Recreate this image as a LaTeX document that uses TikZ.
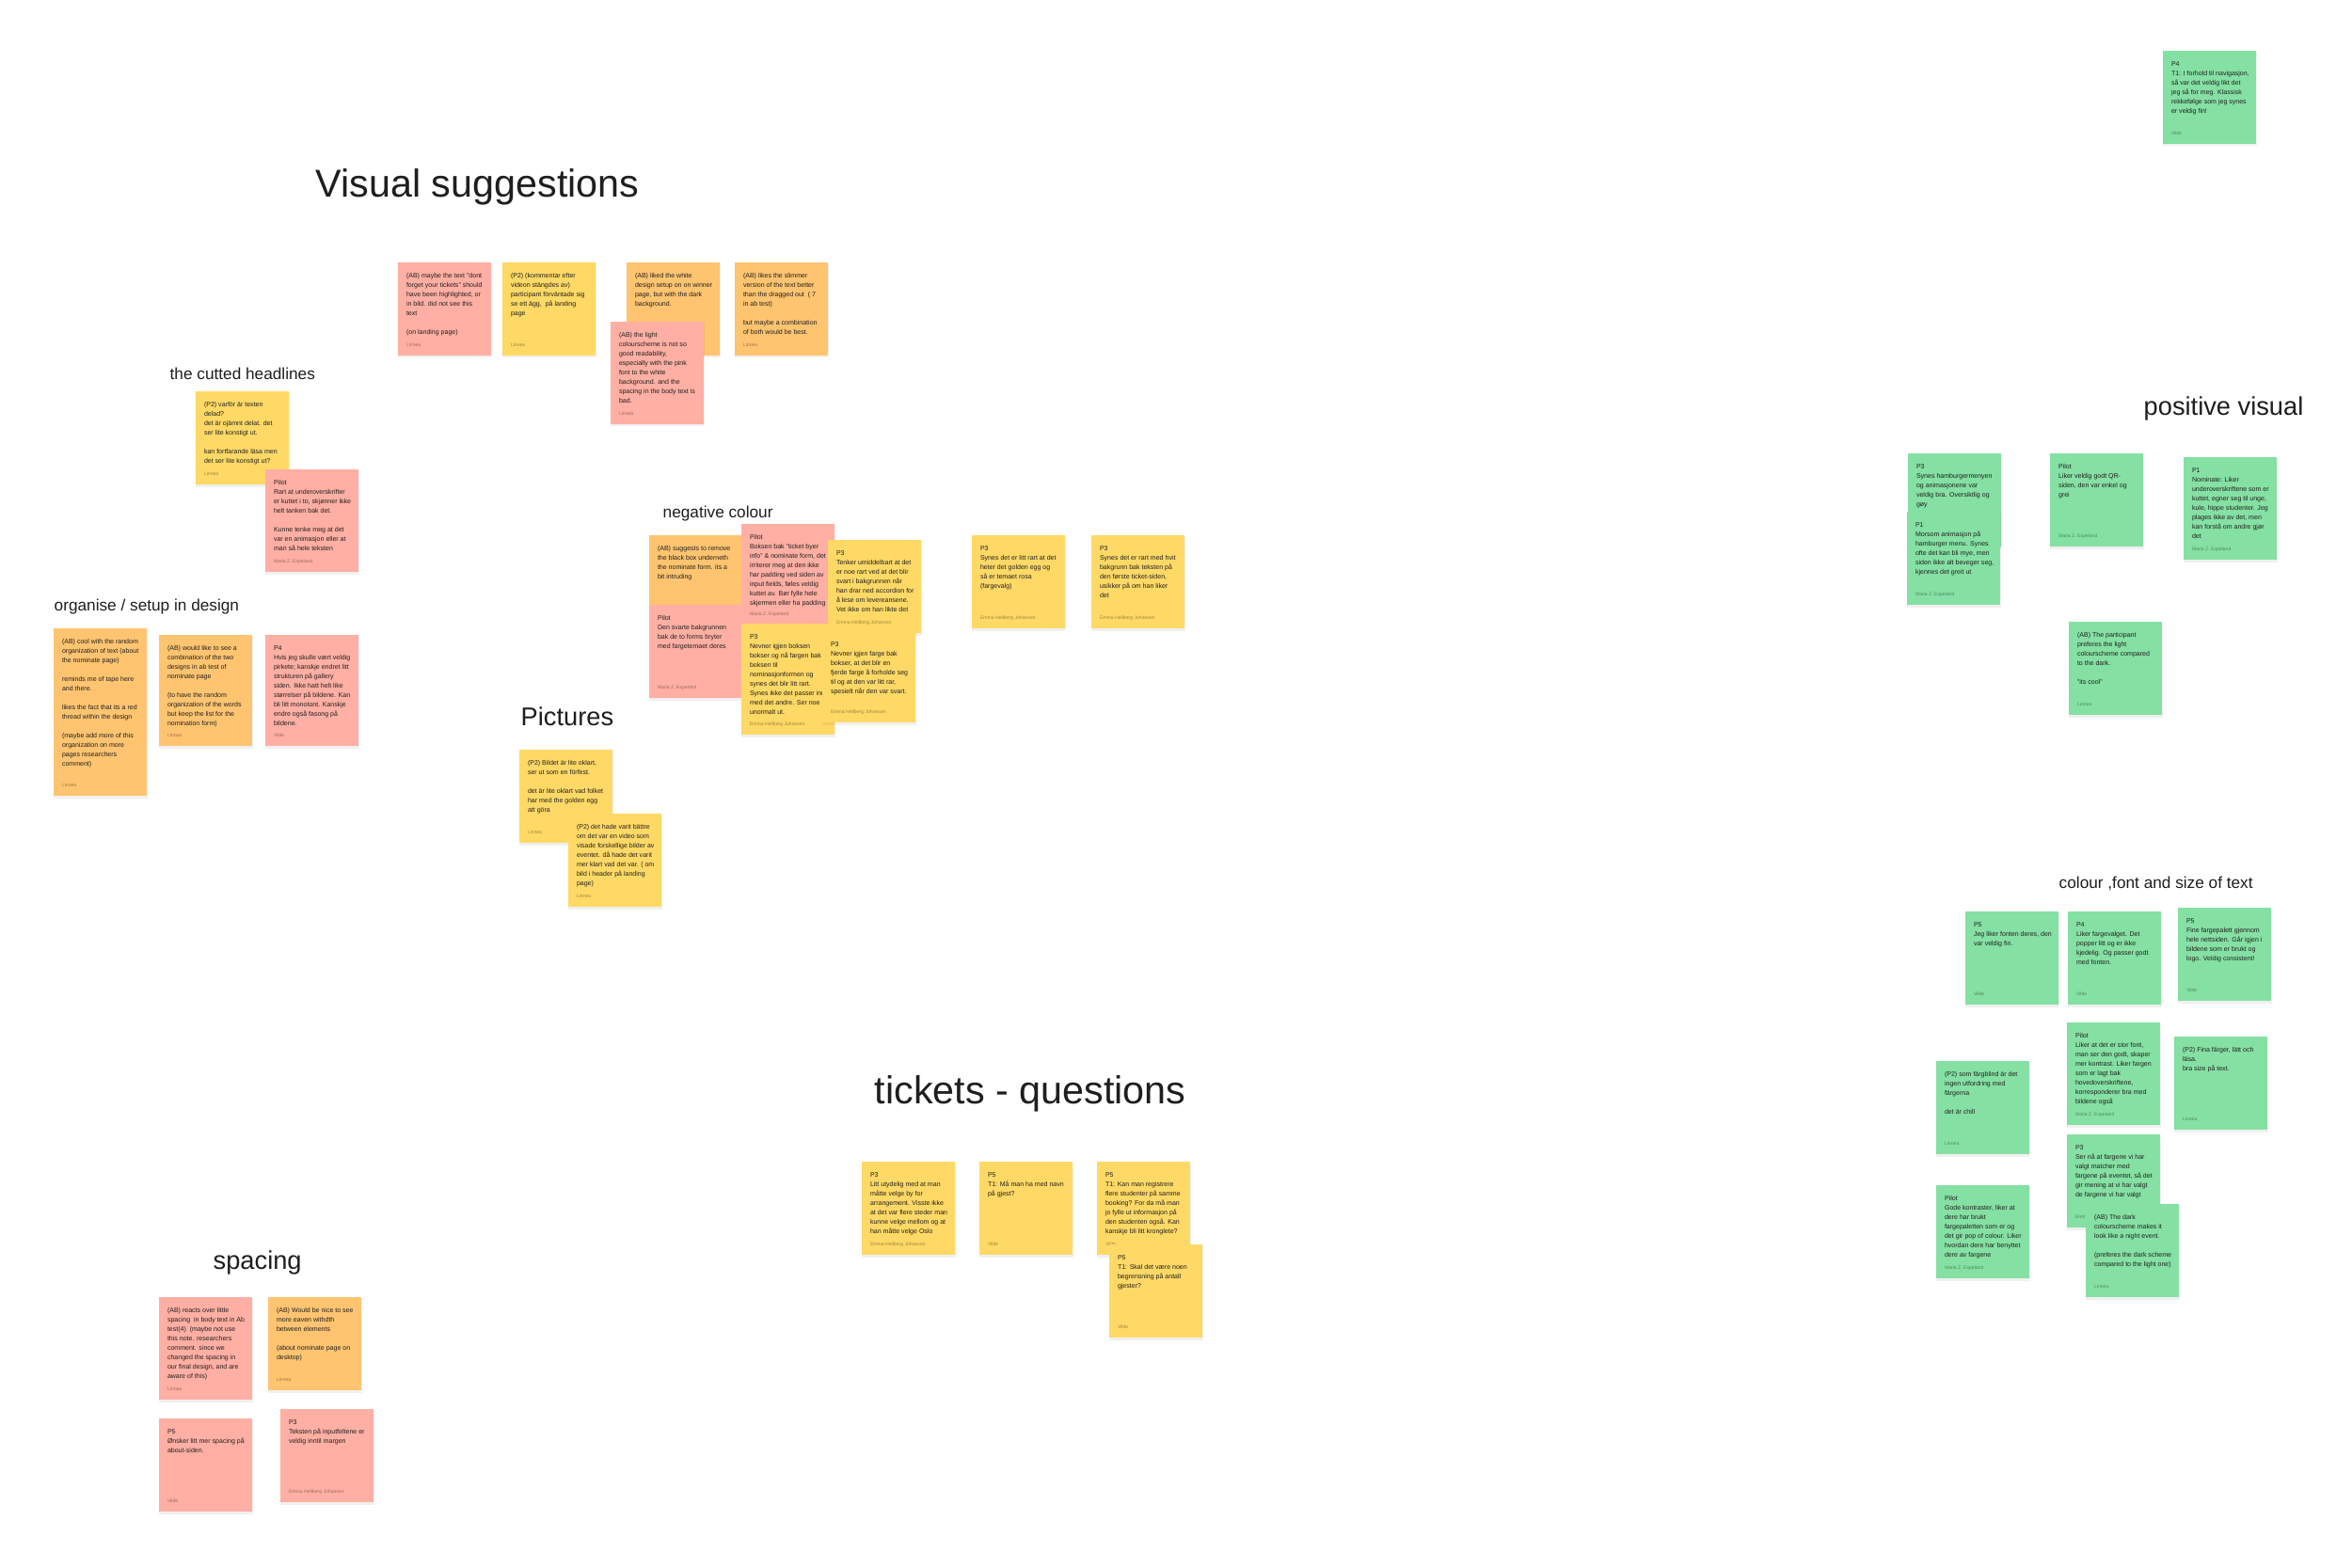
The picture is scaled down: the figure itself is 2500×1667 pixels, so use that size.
\documentclass[tikz,border=0pt]{standalone}
\usepackage{fontspec}
\setmainfont{Liberation Sans}
\definecolor{spink}{HTML}{FFAFA3}
\definecolor{syellow}{HTML}{FFD966}
\definecolor{sorange}{HTML}{FFC470}
\definecolor{sgreen}{HTML}{85E0A3}
\definecolor{tdark}{HTML}{1F1F1F}
\definecolor{ttitle}{HTML}{1E1E1E}
\tikzset{
  notebox/.style={rectangle, anchor=north west, inner sep=0pt, outer sep=0pt, minimum width=0.99cm},
  notetext/.style={anchor=north west, inner sep=0pt, align=left, text=tdark, font=\fontsize{2}{2.845}\selectfont},
  noteauthor/.style={anchor=base west, inner sep=0pt, text=black, text opacity=0.38, font=\fontsize{1.45}{1.8}\selectfont},
  bigtitle/.style={anchor=west, inner sep=0pt, text=ttitle, font=\fontsize{11.75}{14}\selectfont},
  midtitle/.style={anchor=west, inner sep=0pt, text=ttitle, font=\fontsize{7.75}{9}\selectfont},
  smalltitle/.style={anchor=west, inner sep=0pt, text=ttitle, font=\fontsize{4.9}{6}\selectfont},
  shadowbox/.style={fill=black, opacity=0.06}
}
\newcommand{\stickynote}[7]{%
  \fill[shadowbox] (#2-0.5,#3+1.5) rectangle (#2+99.5,#3+#4+2.5);
  \node[notebox, fill=#5, minimum height={#4*0.01cm}] (#1) at (#2,#3) {};
  \node[notetext] (#1-t) at ([shift={(8.3,10.5)}]#1.north west) {#6};
  \node[noteauthor] (#1-a) at ([shift={(8.3,-9.5)}]#1.south west) {#7};
}
\newcommand{\bl}{\\[2.845pt]}
\begin{document}
\begin{tikzpicture}[x=0.01cm,y=-0.01cm]
\fill[white] (0,0) rectangle (2500,1667);
\useasboundingbox (0,0) rectangle (2500,1667);

% titles
\node[bigtitle] (tVisual) at (335,199) {Visual suggestions};
\node[bigtitle] (tTickets) at (929,1163) {tickets - questions};
\node[smalltitle] (tCutted) at (180,397) {the cutted headlines};
\node[smalltitle] (tOrganise) at (57,645) {organise / setup in design};
\node[smalltitle] (tNegative) at (704,546) {negative colour};
\node[midtitle] (tPictures) at (553,762) {Pictures};
\node[midtitle] (tSpacing) at (226,1342) {spacing};
\node[midtitle] (tPositive) at (2278,434) {positive visual};
\node[smalltitle] (tColour) at (2188,939) {colour ,font and size of text};

% Visual suggestions
\stickynote{A1}{423}{279}{99}{spink}{(AB) maybe the text "dont\\forget your tickets" should\\have been highlighted, or\\in bild. did not see this\\text\bl (on landing page)}{Linnea}
\stickynote{A2}{534}{279}{99}{syellow}{(P2) (kommentar efter\\videon stängdes av)\\participant förväntade sig\\se ett ägg,\ \ på landing\\page}{Linnea}
\stickynote{A3}{666}{279}{99}{sorange}{(AB) liked the white\\design setup on on winner\\page, but with the dark\\background.}{Linnea}
\stickynote{A5}{781}{279}{99}{sorange}{(AB) likes the slimmer\\version of the text better\\than the dragged out\ \ ( 7\\in ab test)\bl but maybe a combination\\of both would be best.}{Linnea}
\stickynote{A4}{649}{342}{109}{spink}{(AB) the light\\colourscheme is not so\\good readability,\\especially with the pink\\font to the white\\background. and the\\spacing in the body text is\\bad.}{Linnea}

% cutted headlines
\stickynote{B1}{208}{416}{99}{syellow}{(P2) varför är texten\\delad?\\det är ojämnt delat. det\\ser lite konstigt ut.\bl kan fortfarande läsa men\\det ser lite konstigt ut?}{Linnea}
\stickynote{B2}{282}{499}{109}{spink}{Pilot\\Rart at underoverskrifter\\er kuttet i to, skjønner ikke\\helt tanken bak det.\bl Kunne tenke meg at det\\var en animasjon eller at\\man så hele teksten}{Maria Z. Espeland}

% organise
\stickynote{C1}{57}{668}{178}{sorange}{(AB) cool with the random\\organization of text (about\\the nominate page)\bl reminds me of tape here\\and there.\bl likes the fact that its a red\\thread within the design\bl (maybe add more of this\\organization on more\\pages researchers\\comment)}{Linnea}
\stickynote{C2}{169}{675}{118}{sorange}{(AB) would like to see a\\combination of the two\\designs in ab test of\\nominate page\bl (to have the random\\organization of the words\\but keep the list for the\\nomination form)}{Linnea}
\stickynote{C3}{282}{675}{118}{spink}{P4\\Hvis jeg skulle vært veldig\\pirkete; kanskje endret litt\\strukturen på gallery\\siden. Ikke hatt helt like\\størrelser på bildene. Kan\\bli litt monotont. Kanskje\\endre også fasong på\\bildene.}{Vilde}

% negative colour
\stickynote{D1}{690}{569}{99}{sorange}{(AB) suggests to remove\\the black box underneth\\the nominate form. its a\\bit intruding}{Linnea}
\stickynote{D2}{690}{643}{99}{spink}{Pilot\\Den svarte bakgrunnen\\bak de to forms bryter\\med fargetemaet deres}{Maria Z. Espeland}
\stickynote{D3}{788}{557}{107}{spink}{Pilot\\Boksen bak "ticket byer\\info" \& nominate form, det\\irriterer meg at den ikke\\har padding ved siden av\\input fields, føles veldig\\kuttet av. Bør fylle hele\\skjermen eller ha padding}{Maria Z. Espeland}
\stickynote{D4}{788}{663}{118}{syellow}{P3\\Nevner igjen boksen\\bokser og nå fargen bak\\boksen til\\nominasjonformen og\\synes det blir litt rart.\\Synes ikke det passer inn\\med det andre. Ser noe\\unormalt ut.}{Emma Hellberg Johansen}
\stickynote{D5}{880}{574}{99}{syellow}{P3\\Tenker umiddelbart at det\\er noe rart ved at det blir\\svart i bakgrunnen når\\han drar ned accordion for\\å lese om levereansene.\\Vet ikke om han likte det}{Emma Hellberg Johansen}
\stickynote{D6}{874}{671}{97}{syellow}{P3\\Nevner igjen farge bak\\bokser, at det blir en\\fjerde farge å forholde seg\\til og at den var litt rar,\\spesielt når den var svart.}{Emma Hellberg Johansen}
\stickynote{E1}{1033}{569}{99}{syellow}{P3\\Synes det er litt rart at det\\heter det golden egg og\\så er temaet rosa\\(fargevalg)}{Emma Hellberg Johansen}
\stickynote{E2}{1160}{569}{99}{syellow}{P3\\Synes det er rart med hvit\\bakgrunn bak teksten på\\den første ticket-siden,\\usikker på om han liker\\det}{Emma Hellberg Johansen}

% pictures
\stickynote{F1}{552}{797}{99}{syellow}{(P2) Bildet är lite oklart,\\ser ut som en förfest.\bl det är lite oklart vad folket\\har med the golden egg\\att göra}{Linnea}
\stickynote{F2}{604}{865}{99}{syellow}{(P2) det hade varit bättre\\om det var en video som\\visade forskellige bilder av\\eventet. då hade det varit\\mer klart vad det var. ( om\\bild i header på landing\\page)}{Linnea}

% tickets
\stickynote{G1}{916}{1235}{99}{syellow}{P3\\Litt utydelig med at man\\måtte velge by for\\arrangement. Visste ikke\\at det var flere steder man\\kunne velge mellom og at\\han måtte velge Oslo}{Emma Hellberg Johansen}
\stickynote{G2}{1041}{1235}{99}{syellow}{P5\\T1: Må man ha med navn\\på gjest?}{Vilde}
\stickynote{G3}{1166}{1235}{99}{syellow}{P5\\T1: Kan man registrere\\flere studenter på samme\\booking? For da må man\\jo fylle ut informasjon på\\den studenten også. Kan\\kanskje bli litt kronglete?}{Vilde}
\stickynote{G4}{1179}{1323}{99}{syellow}{P5\\T1: Skal det være noen\\begrensning på antall\\gjester?}{Vilde}

% spacing
\stickynote{H1}{169}{1379}{109}{spink}{(AB) reacts over little\\spacing\ \ in body text in Ab\\test(4)\ \ (maybe not use\\this note. researchers\\comment. since we\\changed the spacing in\\our final design, and are\\aware of this)}{Linnea}
\stickynote{H2}{285}{1379}{99}{sorange}{(AB) Would be nice to see\\more eaven withdth\\between elements\bl (about nominate page on\\desktop)}{Linnea}
\stickynote{H3}{169}{1508}{99}{spink}{P5\\Ønsker litt mer spacing på\\about-siden.}{Vilde}
\stickynote{H4}{298}{1498}{99}{spink}{P3\\Teksten på inputfeltene er\\veldig inntil margen}{Emma Hellberg Johansen}

% positive visual
\stickynote{I1}{2028}{482}{99}{sgreen}{P3\\Synes hamburgermenyen\\og animasjonene var\\veldig bra. Oversiktlig og\\gøy}{Maria Z. Espeland}
\stickynote{I2}{2027}{544}{99}{sgreen}{P1\\Morsom animasjon på\\hamburger menu. Synes\\ofte det kan bli mye, men\\siden ikke alt beveger seg,\\kjennes det greit ut}{Maria Z. Espeland}
\stickynote{I3}{2179}{482}{99}{sgreen}{Pilot\\Liker veldig godt QR-\\siden, den var enkel og\\grei}{Maria Z. Espeland}
\stickynote{I4}{2321}{486}{109}{sgreen}{P1\\Nominate: Liker\\underoverskriftene som er\\kuttet, egner seg til unge,\\kule, hippe studenter. Jeg\\plages ikke av det, men\\kan forstå om andre gjør\\det}{Maria Z. Espeland}
\stickynote{I5}{2199}{661}{99}{sgreen}{(AB) The participant\\preferes the light\\colourscheme compared\\to the dark.\bl "its cool"}{Linnea}

% colour, font and size
\stickynote{J1}{2089}{969}{99}{sgreen}{P5\\Jeg liker fonten deres, den\\var veldig fin.}{Vilde}
\stickynote{J2}{2198}{969}{99}{sgreen}{P4\\Liker fargevalget. Det\\popper litt og er ikke\\kjedelig. Og passer godt\\med fonten.}{Vilde}
\stickynote{J3}{2315}{965}{99}{sgreen}{P5\\Fine fargepalett gjennom\\hele nettsiden. Går igjen i\\bildene som er brukt og\\logo. Veldig consistent!}{Vilde}
\stickynote{J4}{2197}{1087}{109}{sgreen}{Pilot\\Liker at det er stor font,\\man ser den godt, skaper\\mer kontrast. Liker fargen\\som er lagt bak\\hovedoverskriftene,\\korresponderer bra med\\bildene også}{Maria Z. Espeland}
\stickynote{J5}{2311}{1102}{99}{sgreen}{(P2) Fina färger, lätt och\\läsa.\\bra size på text.}{Linnea}
\stickynote{J6}{2058}{1128}{99}{sgreen}{(P2) som färgblind är det\\ingen utfordring med\\färgerna\bl det är chill}{Linnea}
\stickynote{J7}{2058}{1260}{99}{sgreen}{Pilot\\Gode kontraster, liker at\\dere har brukt\\fargepaletten som er og\\det gir pop of colour. Liker\\hvordan dere har benyttet\\dere av fargene}{Maria Z. Espeland}
\stickynote{J8}{2197}{1206}{99}{sgreen}{P3\\Ser nå at fargene vi har\\valgt matcher med\\fargene på eventet, så det\\gir mening at vi har valgt\\de fargene vi har valgt}{Emma Hellberg Johansen}
\stickynote{J9}{2217}{1280}{99}{sgreen}{(AB) The dark\\colourscheme makes it\\look like a night event.\bl (preferes the dark scheme\\compared to the light one)}{Linnea}

% top right
\stickynote{K1}{2299}{54}{99}{sgreen}{P4\\T1: I forhold til navigasjon,\\så var det veldig likt det\\jeg så for meg. Klassisk\\rekkefølge som jeg synes\\er veldig fin!}{Vilde}
\end{tikzpicture}
\end{document}
